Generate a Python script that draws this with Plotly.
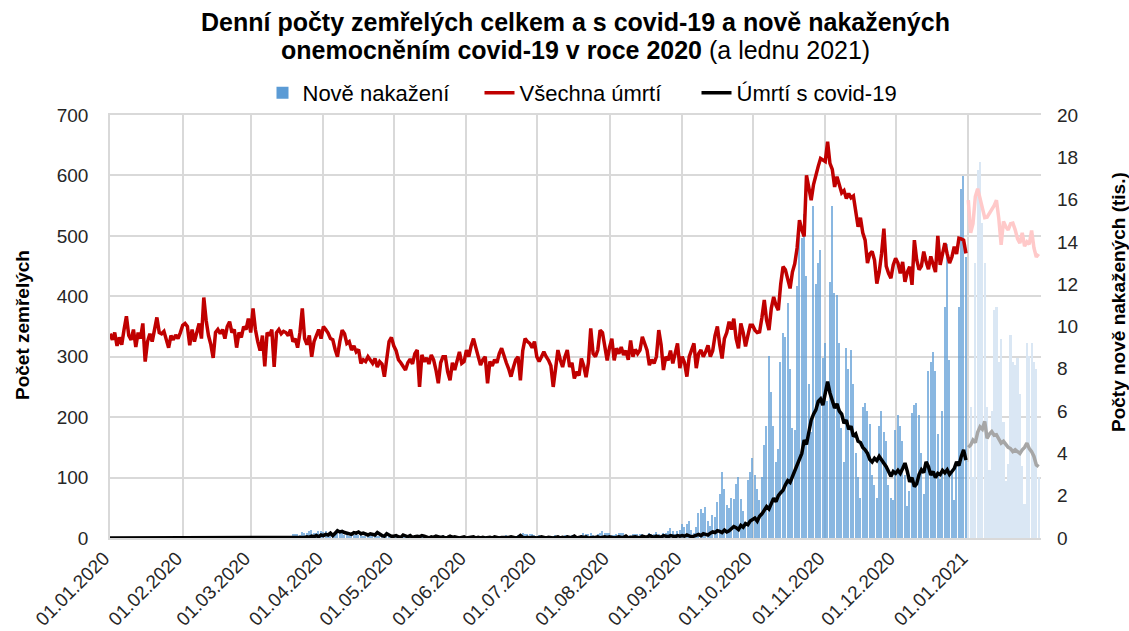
import pandas as pd
import plotly.graph_objects as go

# ---------------- data ----------------
dates = pd.date_range("2020-01-01", "2021-01-31", freq="D")

# new infections, thousands per day
cases_jan20 = [0.0] * 31
cases_feb20 = [0.0] * 29
cases_mar20 = [0.003, 0, 0.002, 0.001, 0.007, 0.007, 0.007, 0.006, 0.009, 0.022,
               0.025, 0.022, 0.025, 0.048, 0.049, 0.069, 0.10, 0.09, 0.17, 0.20,
               0.17, 0.12, 0.28, 0.25, 0.24, 0.34, 0.38, 0.26, 0.22, 0.32,
               0.33]
cases_apr20 = [0.28, 0.35, 0.24, 0.22, 0.14, 0.14, 0.26, 0.29, 0.26, 0.16,
               0.14, 0.09, 0.12, 0.16, 0.18, 0.15, 0.15, 0.09, 0.06, 0.11,
               0.15, 0.10, 0.12, 0.09, 0.06, 0.04, 0.09, 0.10, 0.08, 0.08]
cases_may20 = [0.05, 0.04, 0.03, 0.08, 0.06, 0.07, 0.06, 0.03, 0.02, 0.02,
               0.03, 0.04, 0.09, 0.08, 0.07, 0.05, 0.03, 0.05, 0.07, 0.05,
               0.10, 0.13, 0.06, 0.02, 0.08, 0.07, 0.09, 0.05, 0.04, 0.05,
               0.06]
cases_jun20 = [0.04, 0.07, 0.07, 0.08, 0.06, 0.04, 0.03, 0.08, 0.10, 0.06,
               0.09, 0.08, 0.05, 0.05, 0.05, 0.08, 0.10, 0.14, 0.11, 0.07,
               0.06, 0.10, 0.12, 0.15, 0.26, 0.17, 0.20, 0.17, 0.20, 0.13]
cases_jul20 = [0.09, 0.12, 0.11, 0.09, 0.05, 0.07, 0.08, 0.09, 0.12, 0.11,
               0.07, 0.06, 0.12, 0.13, 0.10, 0.14, 0.09, 0.06, 0.05, 0.13,
               0.24, 0.21, 0.20, 0.24, 0.14, 0.10, 0.18, 0.24, 0.31, 0.24,
               0.26]
cases_aug20 = [0.22, 0.12, 0.12, 0.18, 0.23, 0.24, 0.22, 0.16, 0.09, 0.15,
               0.21, 0.17, 0.21, 0.18, 0.17, 0.07, 0.13, 0.24, 0.17, 0.20,
               0.27, 0.20, 0.14, 0.24, 0.25, 0.35, 0.46, 0.31, 0.21, 0.32,
               0.37]
cases_sep20 = [0.65, 0.50, 0.67, 0.80, 0.40, 0.25, 0.50, 1.16, 1.37, 1.16,
               1.45, 0.80, 0.55, 1.10, 1.00, 1.70, 2.10, 3.10, 2.30, 1.55,
               1.40, 1.90, 1.85, 2.55, 2.90, 1.85, 1.30, 0.75, 2.75, 3.10]
cases_oct20 = [3.80, 3.00, 2.30, 1.80, 2.90, 4.40, 5.30, 8.60, 6.90, 5.30,
               3.60, 4.20, 8.30, 9.70, 9.50, 11.10, 8.00, 5.20, 5.10, 11.90,
               14.90, 14.20, 15.30, 12.40, 7.30, 5.00, 15.70, 12.00, 13.00, 13.60,
               8.50]
cases_nov20 = [9.20, 6.50, 12.10, 15.70, 11.60, 11.50, 9.20, 5.20, 3.60, 9.00,
               8.00, 8.90, 7.30, 4.00, 2.90, 1.90, 6.20, 6.40, 6.00, 5.40,
               3.00, 2.50, 1.90, 5.30, 6.00, 5.00, 4.60, 2.50, 1.90, 1.80]
cases_dec20 = [5.10, 5.80, 5.30, 4.60, 3.00, 1.50, 2.20, 5.90, 6.30, 6.40,
               5.80, 4.00, 2.10, 3.50, 7.90, 8.30, 8.80, 7.90, 4.90, 2.80,
               6.00, 10.90, 13.90, 8.40, 3.10, 1.80, 3.40, 10.90, 16.50, 17.10,
               13.30]
cases_jan21 = [3.60, 6.20, 2.90, 13.00, 17.40, 17.80, 14.90, 13.00, 6.20, 3.20,
               6.00, 10.80, 10.90, 8.30, 9.40, 5.50, 2.70, 3.50, 9.60, 8.30,
               8.20, 8.50, 6.80, 3.40, 1.60, 9.20, 8.60, 9.20, 8.30, 8.00,
               2.90]

# all deaths per day
deaths_jan20 = [338, 328, 340, 318, 332, 320, 345, 367, 335, 328,
                345, 316, 340, 330, 355, 292, 325, 338, 325, 345,
                365, 340, 338, 342, 330, 315, 335, 328, 336, 330,
                340]
deaths_feb20 = [352, 355, 350, 319, 345, 325, 340, 355, 330, 398,
                360, 335, 320, 298, 340, 345, 338, 345, 330, 350,
                358, 340, 345, 315, 340, 332, 350, 345, 363]
deaths_mar20 = [340, 380, 345, 325, 310, 335, 284, 340, 335, 345,
                283, 340, 345, 338, 342, 340, 335, 345, 325, 330,
                315, 340, 380, 330, 320, 335, 300, 325, 335, 345,
                330]
deaths_apr20 = [350, 345, 339, 330, 328, 312, 300, 325, 344, 338,
                322, 325, 311, 318, 308, 312, 289, 295, 292, 300,
                295, 289, 297, 283, 292, 288, 267, 300, 325, 332]
deaths_may20 = [318, 310, 295, 290, 285, 278, 290, 296, 288, 305,
                311, 250, 303, 292, 298, 288, 303, 295, 278, 256,
                290, 300, 300, 275, 261, 290, 278, 295, 308, 289,
                292]
deaths_jun20 = [311, 300, 318, 330, 315, 300, 286, 295, 300, 256,
                292, 285, 295, 290, 305, 314, 300, 290, 280, 267,
                282, 295, 300, 261, 310, 330, 325, 322, 315, 325]
deaths_jul20 = [300, 292, 300, 308, 300, 294, 285, 250, 280, 311,
                295, 283, 300, 311, 283, 290, 264, 275, 269, 297,
                285, 266, 290, 347, 305, 300, 311, 344, 340, 320,
                294]
deaths_aug20 = [315, 330, 294, 314, 305, 316, 303, 310, 295, 327,
                300, 312, 305, 311, 333, 320, 311, 286, 295, 289,
                300, 344, 320, 278, 300, 294, 310, 289, 305, 322,
                281]
deaths_sep20 = [300, 290, 267, 300, 310, 322, 281, 305, 311, 300,
                308, 319, 300, 310, 335, 350, 320, 297, 330, 340,
                358, 345, 363, 330, 314, 355, 340, 317, 335, 352]
deaths_oct20 = [352, 344, 340, 341, 365, 394, 360, 344, 380, 399,
                385, 377, 420, 449, 444, 430, 413, 440, 454, 480,
                526, 510, 499, 600, 575, 559, 585, 603, 615, 628,
                625]
deaths_nov20 = [623, 656, 620, 610, 581, 598, 585, 571, 575, 562,
                570, 563, 566, 540, 515, 530, 505, 493, 455, 470,
                474, 460, 421, 440, 470, 512, 450, 438, 430, 452]
deaths_dec20 = [463, 455, 438, 457, 424, 440, 449, 419, 493, 460,
                444, 450, 474, 457, 445, 466, 452, 440, 500, 452,
                470, 488, 470, 455, 465, 482, 470, 496, 495, 493,
                471]
deaths_jan21 = [559, 505, 520, 565, 578, 560, 545, 530, 531, 537,
                545, 550, 559, 529, 485, 524, 515, 510, 520, 521,
                510, 495, 488, 505, 483, 490, 486, 509, 480, 465,
                470]

# deaths with covid-19 per day
covid_jan20 = [0] * 31
covid_feb20 = [0] * 29
covid_mar20 = [0, 0, 0, 0, 0, 0, 0, 0, 0, 0,
               0, 0, 0, 0, 0, 0, 0, 0, 0, 0,
               0, 1, 0, 1, 2, 1, 3, 2, 4, 2,
               5]
covid_apr20 = [4, 6, 5, 8, 4, 8, 12, 10, 11, 9,
               8, 7, 6, 9, 8, 10, 7, 8, 6, 5,
               7, 6, 5, 9, 6, 4, 3, 7, 5, 3]
covid_may20 = [3, 4, 2, 1, 5, 3, 2, 4, 1, 2,
               3, 2, 4, 3, 1, 0, 2, 1, 3, 2,
               1, 2, 0, 1, 3, 1, 2, 1, 0, 1,
               2]
covid_jun20 = [0, 1, 1, 2, 0, 1, 0, 1, 0, 1,
               1, 0, 2, 1, 0, 1, 1, 0, 1, 2,
               1, 0, 1, 4, 1, 0, 1, 0, 1, 0]
covid_jul20 = [0, 1, 2, 1, 0, 1, 0, 0, 1, 2,
               0, 1, 0, 2, 1, 1, 3, 0, 1, 2,
               1, 2, 0, 1, 1, 1, 2, 0, 1, 2,
               1]
covid_aug20 = [2, 1, 0, 1, 2, 1, 1, 3, 0, 1,
               2, 2, 1, 0, 3, 2, 1, 4, 2, 1,
               3, 2, 1, 4, 3, 2, 4, 3, 2, 4,
               3]
covid_sep20 = [4, 3, 5, 4, 2, 3, 5, 6, 4, 7,
               6, 5, 8, 10, 9, 12, 11, 9, 13, 10,
               12, 15, 19, 17, 14, 21, 18, 24, 22, 28]
covid_oct20 = [30, 33, 28, 36, 40, 45, 52, 48, 58, 66,
               60, 70, 75, 79, 88, 95, 92, 101, 110, 120,
               129, 140, 162, 155, 175, 195, 205, 212, 226, 230,
               220]
covid_nov20 = [240, 259, 240, 226, 215, 222, 210, 205, 190, 195,
               180, 185, 168, 172, 160, 158, 150, 146, 140, 130,
               126, 132, 128, 135, 130, 124, 118, 110, 102, 110]
covid_dec20 = [107, 112, 107, 115, 124, 110, 93, 100, 85, 90,
               105, 113, 108, 126, 118, 104, 110, 100, 107, 105,
               112, 108, 113, 105, 110, 115, 126, 120, 135, 146,
               129]
covid_jan21 = [150, 154, 162, 158, 175, 184, 180, 193, 165, 172,
               176, 170, 171, 165, 157, 160, 154, 150, 148, 143,
               146, 143, 140, 146, 150, 157, 148, 143, 135, 121,
               118]

tick_dates = pd.date_range("2020-01-01", "2021-01-01", freq="MS")
tick_labels = [d.strftime("%d.%m.%Y") for d in tick_dates]

title_line1 = "Denní počty zemřelých celkem a s covid-19 a nově nakažených"
title_line2_bold = "onemocněním covid-19 v roce 2020"
title_line2_rest = " (a lednu 2021)"

# ---------------- assemble ----------------
cases_2020 = (cases_jan20 + cases_feb20 + cases_mar20 + cases_apr20 + cases_may20 + cases_jun20
              + cases_jul20 + cases_aug20 + cases_sep20 + cases_oct20 + cases_nov20 + cases_dec20)
deaths_2020 = (deaths_jan20 + deaths_feb20 + deaths_mar20 + deaths_apr20 + deaths_may20 + deaths_jun20
               + deaths_jul20 + deaths_aug20 + deaths_sep20 + deaths_oct20 + deaths_nov20 + deaths_dec20)
covid_2020 = (covid_jan20 + covid_feb20 + covid_mar20 + covid_apr20 + covid_may20 + covid_jun20
              + covid_jul20 + covid_aug20 + covid_sep20 + covid_oct20 + covid_nov20 + covid_dec20)

d2020 = dates[:len(cases_2020)]
d2021 = dates[366:366 + len(cases_jan21)]

FONT = "Liberation Sans, Arial, sans-serif"
DAY = 86400000
W, H = 1129, 631
L, R, T, B = 110, 88, 115, 93
PW, PH = W - L - R, H - T - B


def px_x(x):
    return (x - L) / PW


def px_y(y):
    return (H - B - y) / PH


fig = go.Figure()
fig.add_trace(go.Bar(x=d2020, y=cases_2020, name="Nově nakažení", yaxis="y",
                     marker=dict(color="#5b9bd5", opacity=0.72, line=dict(width=0)),
                     width=0.62 * DAY))
fig.add_trace(go.Bar(x=d2021, y=cases_jan21, name="Nově nakažení (leden 2021)", yaxis="y",
                     marker=dict(color="#dae7f4", line=dict(width=0)), width=0.95 * DAY,
                     showlegend=False))
fig.add_trace(go.Scatter(x=d2020, y=deaths_2020, name="Všechna úmrtí", yaxis="y2", mode="lines",
                         line=dict(color="#c00000", width=3.5)))
fig.add_trace(go.Scatter(x=d2021, y=deaths_jan21, name="Všechna úmrtí (leden 2021)", yaxis="y2",
                         mode="lines", line=dict(color="#ffc9c9", width=3.5), showlegend=False))
fig.add_trace(go.Scatter(x=d2020, y=covid_2020, name="Úmrtí s covid-19", yaxis="y2", mode="lines",
                         line=dict(color="#000000", width=3.5)))
fig.add_trace(go.Scatter(x=d2021, y=covid_jan21, name="Úmrtí s covid-19 (leden 2021)", yaxis="y2",
                         mode="lines", line=dict(color="#a6a6a6", width=3.5), showlegend=False))

grid = "#d9d9d9"
tickfont = dict(family=FONT, size=19, color="#262626")
fig.update_layout(
    width=W, height=H,
    margin=dict(l=L, r=R, t=T, b=B, autoexpand=False),
    paper_bgcolor="white", plot_bgcolor="white",
    font=dict(family=FONT, size=19, color="#262626"),
    barmode="overlay", bargap=0,
    showlegend=True,
    legend=dict(orientation="h", x=px_x(588), xanchor="center", y=px_y(93), yanchor="middle",
                font=dict(family=FONT, size=22, color="#000000"),
                itemwidth=30, entrywidth=172, entrywidthmode="pixels",
                traceorder="normal", bgcolor="rgba(0,0,0,0)"),
    xaxis=dict(type="date", range=["2020-01-01", "2021-02-01"],
               tickmode="array", tickvals=list(tick_dates), ticktext=tick_labels,
               tickangle=-45, showgrid=True, gridcolor=grid, gridwidth=1.5,
               showline=True, linecolor=grid, linewidth=1.5, mirror=True,
               ticks="", zeroline=False, automargin=False, ticklabelshift=-6,
               tickfont=dict(family=FONT, size=19, color="#262626")),
    yaxis=dict(side="right", range=[0, 20], dtick=2, tick0=0, showgrid=False,
               zeroline=False, showline=False, ticks="", automargin=False,
               ticklabelstandoff=15, tickfont=tickfont),
    yaxis2=dict(side="left", overlaying="y", range=[0, 700], dtick=100, tick0=0,
                showgrid=True, gridcolor=grid, gridwidth=1.5, zeroline=False,
                showline=True, linecolor=grid, linewidth=1.5, ticks="", automargin=False,
                ticklabelstandoff=16, tickfont=tickfont),
    annotations=[
        dict(text="<b>" + title_line1 + "</b>", xref="paper", yref="paper",
             x=px_x(575), y=px_y(22), xanchor="center", yanchor="middle", showarrow=False,
             font=dict(family=FONT, size=25, color="#000000")),
        dict(text="<b>" + title_line2_bold + "</b>" + title_line2_rest, xref="paper", yref="paper",
             x=px_x(575), y=px_y(50), xanchor="center", yanchor="middle", showarrow=False,
             font=dict(family=FONT, size=25, color="#000000")),
        dict(text="<b>Počet zemřelých</b>", textangle=-90, xref="paper", yref="paper",
             x=px_x(22), y=px_y(325), xanchor="center", yanchor="middle",
             showarrow=False, font=dict(family=FONT, size=19, color="#000000")),
        dict(text="<b>Počty nově nakažených (tis.)</b>", textangle=-90, xref="paper", yref="paper",
             x=px_x(1118), y=px_y(302), xanchor="center", yanchor="middle",
             showarrow=False, font=dict(family=FONT, size=19, color="#000000")),
    ],
)

fig.write_html("out.html", config={"displayModeBar": False},
               post_script="document.body.style.margin='0';document.body.style.overflow='hidden';")
